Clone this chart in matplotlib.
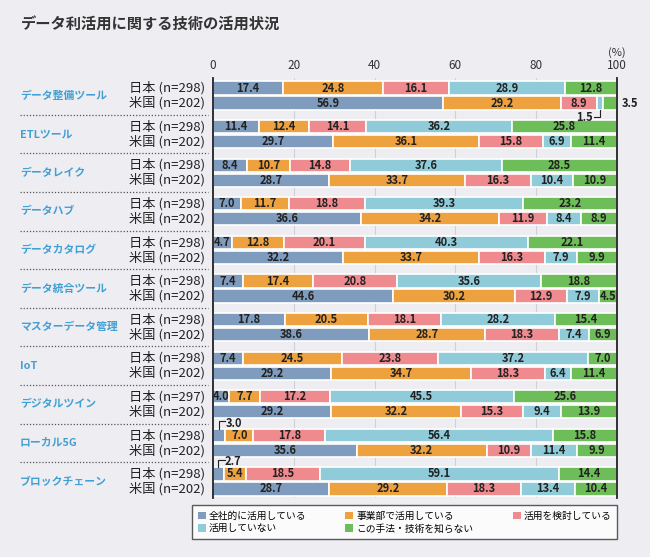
import numpy as np
import matplotlib
matplotlib.use("Agg")
import matplotlib.pyplot as plt
from matplotlib.patches import Patch
import matplotlib.transforms as mtrans

plt.rcParams['font.family'] = ['Noto Sans CJK JP', 'DejaVu Sans']

categories = ['データ整備ツール', 'ETLツール', 'データレイク', 'データハブ', 'データカタログ',
              'データ統合ツール', 'マスターデータ管理', 'IoT', 'デジタルツイン', 'ローカル5G',
              'ブロックチェーン']
jp_n = [298, 298, 298, 298, 298, 298, 298, 298, 297, 298, 298]
us_n = [202] * 11
series = ['全社的に活用している', '事業部で活用している', '活用を検討している',
          '活用していない', 'この手法・技術を知らない']
colors = ['#7f9bbd', '#eea13f', '#ef8a8f', '#8fcbd8', '#6dbd58']

jp_vals = [
    [17.4, 24.8, 16.1, 28.9, 12.8],
    [11.4, 12.4, 14.1, 36.2, 25.8],
    [8.4, 10.7, 14.8, 37.6, 28.5],
    [7.0, 11.7, 18.8, 39.3, 23.2],
    [4.7, 12.8, 20.1, 40.3, 22.1],
    [7.4, 17.4, 20.8, 35.6, 18.8],
    [17.8, 20.5, 18.1, 28.2, 15.4],
    [7.4, 24.5, 23.8, 37.2, 7.0],
    [4.0, 7.7, 17.2, 45.5, 25.6],
    [3.0, 7.0, 17.8, 56.4, 15.8],
    [2.7, 5.4, 18.5, 59.1, 14.4],
]
us_vals = [
    [56.9, 29.2, 8.9, 1.5, 3.5],
    [29.7, 36.1, 15.8, 6.9, 11.4],
    [28.7, 33.7, 16.3, 10.4, 10.9],
    [36.6, 34.2, 11.9, 8.4, 8.9],
    [32.2, 33.7, 16.3, 7.9, 9.9],
    [44.6, 30.2, 12.9, 7.9, 4.5],
    [38.6, 28.7, 18.3, 7.4, 6.9],
    [29.2, 34.7, 18.3, 6.4, 11.4],
    [29.2, 32.2, 15.3, 9.4, 13.9],
    [35.6, 32.2, 10.9, 11.4, 9.9],
    [28.7, 29.2, 18.3, 13.4, 10.4],
]

bg = '#eeedf2'
fig = plt.figure(figsize=(6.5, 5.57), dpi=100, facecolor=bg)
ax = fig.add_axes([213 / 650, 1 - 498 / 557, 404 / 650, 420 / 557])
ax.set_facecolor(bg)

gs = 2.573
n = len(categories)
jp_y = np.arange(n) * gs
us_y = jp_y + 1

for x in [20, 40, 60, 80]:
    ax.axvline(x, color='#d0d0d6', lw=0.8, zorder=0)


def draw_row(y, vals, outside=()):
    left = 0
    for j, v in enumerate(vals):
        ax.barh(y, v, left=left, height=0.87, color=colors[j], edgecolor='white', lw=1.2, zorder=2)
        if (j not in outside):
            ax.text(left + v / 2, y, f'{v:.1f}', ha='center', va='center', fontsize=8,
                    fontweight='bold', color='#222222', zorder=3)
        left += v


for i in range(n):
    jp_out = (0,) if jp_vals[i][0] < 3.5 else ()
    us_out = (3, 4) if i == 0 else ()
    draw_row(jp_y[i], jp_vals[i], jp_out)
    draw_row(us_y[i], us_vals[i], us_out)

# callouts for small segments
v = us_vals[0]
x15 = sum(v[:3]) + v[3] / 2
y0 = us_y[0]
ax.plot([x15, x15, x15 - 1.5], [y0 + 0.45, y0 + 0.95, y0 + 0.95], color='#222222', lw=0.8, clip_on=False)
ax.text(x15 - 1.8, y0 + 0.95, '1.5', ha='right', va='center', fontsize=8, fontweight='bold', color='#222222')
ax.text(101.2, y0, '3.5', ha='left', va='center', fontsize=8, fontweight='bold', color='#222222', clip_on=False)
for i in [9, 10]:
    v = jp_vals[i][0]
    y0 = jp_y[i]
    ax.plot([v / 2, v / 2, v / 2 + 1.5], [y0 - 0.45, y0 - 0.95, y0 - 0.95], color='#222222', lw=0.8)
    ax.text(v / 2 + 1.6, y0 - 0.82, f'{v:.1f}', ha='left', va='center', fontsize=8,
            fontweight='bold', color='#222222')

ax.set_xlim(0, 100)
ax.set_ylim(us_y[-1] + 0.6, -0.667)
ax.xaxis.tick_top()
ax.set_xticks([0, 20, 40, 60, 80, 100])
ax.tick_params(axis='x', length=0, pad=4, labelsize=8.5, labelcolor='#333333')
ax.set_yticks([])
for s in ['top', 'bottom']:
    ax.spines[s].set_visible(False)
for s in ['left', 'right']:
    ax.spines[s].set_color('#222222')
    ax.spines[s].set_linewidth(1.3)
ax.text(100, -0.667 - 1.73, '(%)', ha='center', va='center', fontsize=8, color='#333333')

# row labels and category labels
tr = mtrans.blended_transform_factory(fig.transFigure, ax.transData)
for i in range(n):
    ax.text(205 / 650, jp_y[i], f'日本 (n={jp_n[i]})', transform=tr, ha='right', va='center',
            fontsize=9.5, color='#222222')
    ax.text(205 / 650, us_y[i], f'米国 (n={us_n[i]})', transform=tr, ha='right', va='center',
            fontsize=9.5, color='#222222')
    ax.text(20 / 650, (jp_y[i] + us_y[i]) / 2, categories[i], transform=tr, ha='left', va='center',
            fontsize=7.8, color='#41a0d3', fontweight='bold')
    if i < n - 1:
        ym = (us_y[i] + jp_y[i + 1]) / 2
        ax.plot([20 / 650, 208 / 650], [ym, ym], transform=tr, color='#555555', lw=0.9,
                ls=(0, (1, 1.5)), clip_on=False)

fig.text(21 / 650, 1 - 24 / 557, 'データ利活用に関する技術の活用状況', fontsize=11, fontweight='bold',
         color='#333333', va='center')

handles = [Patch(facecolor=c, edgecolor='none') for c in colors]
order = [0, 3, 1, 4, 2]
leg = fig.legend([handles[k] for k in order], [series[k] for k in order], ncol=3,
                 loc='upper left', mode='expand',
                 bbox_to_anchor=(192 / 650, 1 - 505 / 557, 425 / 650, 0), frameon=True,
                 fontsize=7, handlelength=0.8, handleheight=0.8, handletextpad=0.3,
                 columnspacing=1.0, labelspacing=0.25, borderpad=0.6, borderaxespad=0,
                 fancybox=False)
leg.get_frame().set_edgecolor('#333333')
leg.get_frame().set_facecolor('white')
leg.get_frame().set_linewidth(1.0)

fig.savefig('out.png', dpi=100, facecolor=bg)
